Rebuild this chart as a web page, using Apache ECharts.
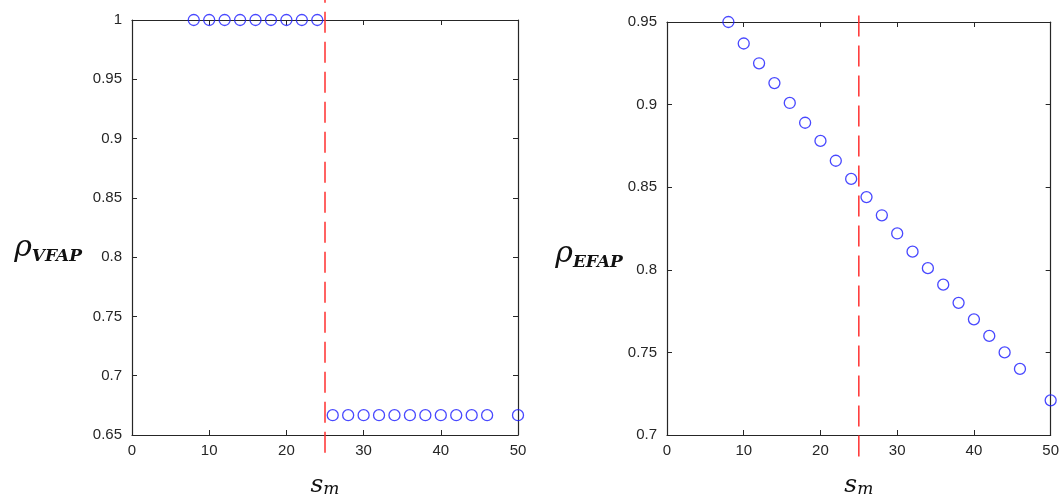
<!DOCTYPE html>
<html>
<head>
<meta charset="utf-8">
<script src="https://cdn.jsdelivr.net/npm/echarts@6/dist/echarts.min.js"></script>
<style>
  html, body { margin: 0; padding: 0; background: #fff; }
  #main { width: 1062px; height: 503px; }
</style>
</head>
<body>
<div id="main"></div>
<script>
/* data */
var xVfap = [8, 10, 12, 14, 16, 18, 20, 22, 24, 26, 28, 30, 32, 34, 36, 38, 40, 42, 44, 46, 50];
var rhoVfap = [1, 1, 1, 1, 1, 1, 1, 1, 1,
  0.6667, 0.6667, 0.6667, 0.6667, 0.6667, 0.6667, 0.6667, 0.6667, 0.6667, 0.6667, 0.6667, 0.6667];
var xEfap = [8, 10, 12, 14, 16, 18, 20, 22, 24, 26, 28, 30, 32, 34, 36, 38, 40, 42, 44, 46, 50];
var rhoEfap = [0.950, 0.937, 0.925, 0.913, 0.901, 0.889, 0.878, 0.866, 0.855, 0.844, 0.833,
  0.822, 0.811, 0.801, 0.791, 0.780, 0.770, 0.760, 0.750, 0.740, 0.721];
var cutX = 25;
var cutLeftY = [0.635, 1.017];
var cutRightY = [0.687, 0.956];

function pairs(xs, ys) {
  return xs.map(function (x, i) { return [x, ys[i]]; });
}

var tickFont = { fontFamily: 'Liberation Sans', fontSize: 15, color: '#262626' };
var lineCol = '#262626';

function xAx(gi, bottom) {
  return {
    type: 'value', gridIndex: gi, min: 0, max: 50, interval: 10,
    position: bottom ? 'bottom' : 'top',
    axisLine: { show: true, onZero: false, lineStyle: { color: lineCol, width: 1.2 } },
    axisTick: { show: true, inside: true, length: 5, lineStyle: { color: lineCol } },
    axisLabel: bottom ? Object.assign({ margin: 8 }, tickFont) : { show: false },
    splitLine: { show: false },
    name: bottom ? '{s|s}{m|m}' : '',
    nameLocation: 'middle', nameGap: 38,
    nameTextStyle: {
      rich: {
        s: { fontFamily: 'DejaVu Serif', fontStyle: 'italic', fontSize: 25, color: '#111', verticalAlign: 'bottom' },
        m: { fontFamily: 'DejaVu Serif', fontStyle: 'italic', fontSize: 17, color: '#111', verticalAlign: 'bottom' }
      }
    }
  };
}

function yAx(gi, left, min, max, nm, gap, drop) {
  return {
    type: 'value', gridIndex: gi, min: min, max: max, interval: 0.05,
    position: left ? 'left' : 'right',
    axisLine: { show: true, onZero: false, lineStyle: { color: lineCol, width: 1.2 } },
    axisTick: { show: true, inside: true, length: 5, lineStyle: { color: lineCol } },
    axisLabel: left ? Object.assign({ margin: 10 }, tickFont) : { show: false },
    splitLine: { show: false },
    name: left ? '{r|\u03c1}{s|' + nm + '}' : '',
    nameLocation: 'middle', nameRotate: 0, nameGap: gap || 50,
    nameTextStyle: {
      align: 'right',
      padding: [drop || 0, 0, 0, 0],
      rich: {
        r: { fontFamily: 'DejaVu Serif', fontStyle: 'italic', fontSize: 30, color: '#111', verticalAlign: 'bottom' },
        s: { fontFamily: 'DejaVu Serif', fontStyle: 'italic', fontWeight: 'bold', fontSize: 17, color: '#111', verticalAlign: 'bottom', padding: [0, 0, -2, 0] }
      }
    }
  };
}

var marker = {
  symbol: 'circle', symbolSize: 11,
  itemStyle: { color: 'rgba(0,0,0,0)', borderColor: '#1a1aff', borderWidth: 1.3 }
};
var cutStyle = { color: '#ff3030', width: 1.5, type: [21, 9] };

var option = {
  animation: false,
  backgroundColor: '#fff',
  grid: [
    { left: 132, top: 20, width: 386, height: 415 },
    { left: 667, top: 22, width: 386, height: 419 }
  ],
  xAxis: [xAx(0, true), xAx(0, false), xAx(1, true), xAx(1, false)],
  yAxis: [
    yAx(0, true, 0.65, 1, 'VFAP', 50, 42), yAx(0, false, 0.65, 1, ''),
    yAx(1, true, 0.7, 0.95, 'EFAP', 40, 52), yAx(1, false, 0.7, 0.95, '')
  ],
  series: [
    {
      type: 'line', xAxisIndex: 0, yAxisIndex: 0, clip: false, symbol: 'none',
      data: pairs([cutX, cutX], cutLeftY), lineStyle: cutStyle
    },
    {
      type: 'line', xAxisIndex: 2, yAxisIndex: 2, clip: false, symbol: 'none',
      data: pairs([cutX, cutX], cutRightY), lineStyle: cutStyle
    },
    Object.assign({ type: 'scatter', xAxisIndex: 0, yAxisIndex: 0, clip: false,
      data: pairs(xVfap, rhoVfap) }, marker),
    Object.assign({ type: 'scatter', xAxisIndex: 2, yAxisIndex: 2, clip: false,
      data: pairs(xEfap, rhoEfap) }, marker)
  ]
};

var chart = echarts.init(document.getElementById('main'));
chart.setOption(option);
</script>
</body>
</html>
